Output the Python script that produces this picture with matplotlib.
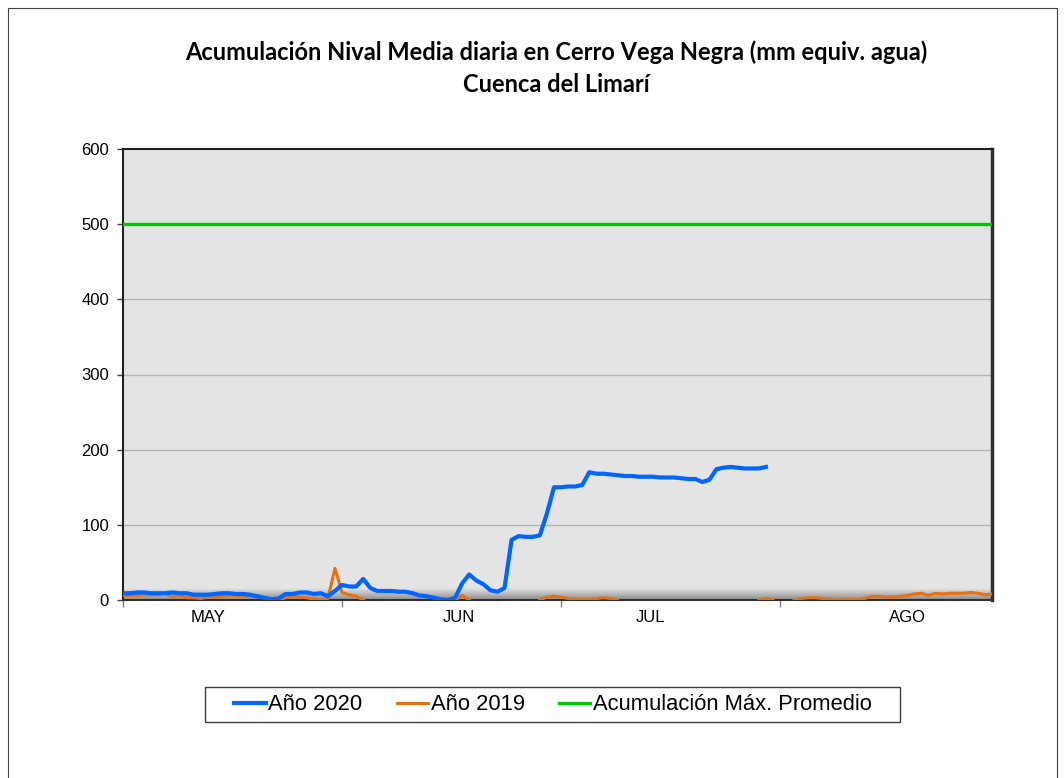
import matplotlib
matplotlib.use("Agg")
import matplotlib.pyplot as plt
import numpy as np
from matplotlib.colors import LinearSegmentedColormap
from matplotlib.patches import Rectangle

nan = np.nan

# daily values (mm equiv. agua), day 0 = 1 May
anio_2020 = [9, 9, 10, 10, 9, 9, 9, 10, 9, 9,
             7, 7, 7, 8, 9, 9, 8, 8, 7, 5,
             3, 1, 2, 8, 8, 10, 10, 8, 9, 5,
             12, 20, 18, 18, 28, 16, 12, 12, 12, 11,
             11, 9, 6, 5, 3, 1, 0, 3, 22, 34,
             26, 21, 13, 11, 16, 80, 85, 84, 84, 86,
             115, 150, 150, 151, 151, 153, 170, 168, 168, 167,
             166, 165, 165, 164, 164, 164, 163, 163, 163, 162,
             161, 161, 157, 160, 174, 176, 177, 176, 175, 175,
             175, 177]

anio_2019 = [6, 6, 6, 7, 7, 7, 9, 4, 6, 3,
             3, 2, 4, 4, 5, 6, 6, 5, 5, 4,
             3, 1, 0, 3, 5, 4, 3, 1, 0, 2,
             42, 10, 7, 5, 0, nan, nan, nan, nan, nan,
             nan, nan, nan, nan, nan, nan, nan, 0, 6, 0,
             nan, nan, nan, nan, nan, nan, nan, nan, nan, 0,
             4, 5, 4, 2, 1, 1, 1, 2, 3, 2,
             0, nan, nan, nan, nan, nan, nan, nan, nan, nan,
             nan, nan, nan, nan, nan, nan, nan, nan, nan, nan,
             0, 2, 0, nan, nan, 0, 2, 3, 3, 2,
             1, 0, 1, 1, 0, 2, 5, 5, 4, 4,
             5, 6, 8, 9, 6, 9, 8, 9, 9, 9,
             10, 9, 7, 8]

max_promedio = 500

month_bounds = [0, 31, 62, 93]
month_label_pos = [12, 47.6, 74.7, 111]
month_labels = ["MAY", "JUN", "JUL", "AGO"]

W, H = 1064, 778
fig = plt.figure(figsize=(W / 100, H / 100), dpi=100)
fig.patch.set_facecolor("white")
# outer chart border
fig.patches.append(Rectangle((8 / W, -0.01), 1049 / W, 1 - 8 / H + 0.01,
                             transform=fig.transFigure, fill=False,
                             edgecolor="#404040", linewidth=0.8))

ax = fig.add_axes([123 / W, 178 / H, 869 / W, 451 / H])
ax.set_facecolor("#E4E4E4")

# bottom shading like the Excel plot area
shade = LinearSegmentedColormap.from_list("shade", ["#E4E4E4", "#8C8C8C"])
ax.imshow(np.linspace(0, 1, 50).reshape(-1, 1), cmap=shade, aspect="auto",
          extent=(0, 1, 0, 0.025), transform=ax.transAxes, zorder=0.5)

for y in [100, 200, 300, 400]:
    ax.axhline(y, color="#B4B4B4", linewidth=1.0, zorder=1)

ax.axhline(max_promedio, color="#00C800", linewidth=2.4, zorder=3,
           label="Acumulación Máx. Promedio")
ax.plot(np.arange(len(anio_2019)), anio_2019, color="#E8700F", linewidth=2.2,
        zorder=3, label="Año 2019")
ax.plot(np.arange(len(anio_2020)), anio_2020, color="#0066FF", linewidth=3.0,
        zorder=4, label="Año 2020")

ax.set_xlim(0, 123)
ax.set_ylim(0, 600)
ax.set_yticks(range(0, 601, 100))
ax.tick_params(axis="y", labelsize=12, length=4, width=1, color="#404040", pad=6)

ax.set_xticks(month_bounds)
ax.set_xticklabels([""] * len(month_bounds))
ax.tick_params(axis="x", which="major", length=5, width=1, color="#808080")
ax.set_xticks(month_label_pos, minor=True)
ax.set_xticklabels(month_labels, minor=True)
ax.tick_params(axis="x", which="minor", length=0, labelsize=12, pad=7)

for s in ["top", "left"]:
    ax.spines[s].set_color("#202020")
    ax.spines[s].set_linewidth(1.5)
ax.spines["bottom"].set_color("#303030")
ax.spines["bottom"].set_linewidth(1.5)
ax.spines["right"].set_color("#303030")
ax.spines["right"].set_linewidth(2.5)

for lbl in ax.get_xticklabels(minor=True) + ax.get_yticklabels():
    lbl.set_family("Liberation Sans")

fig.text(556 / W, 1 - 52 / H,
         "Acumulación Nival Media diaria en Cerro Vega Negra (mm equiv. agua)",
         ha="center", va="center", fontsize=17, fontweight="bold", family="Lato")
fig.text(556 / W, 1 - 84 / H, "Cuenca del Limarí",
         ha="center", va="center", fontsize=17, fontweight="bold", family="Lato")

# legend box drawn by hand so the padding can be wider than tall
fig.patches.append(Rectangle((205 / W, 1 - 722 / H), 695 / W, 35 / H,
                             transform=fig.transFigure, facecolor="white",
                             edgecolor="#404040", linewidth=1.0))
handles, labels = ax.get_legend_handles_labels()
order = [2, 1, 0]
leg = fig.legend([handles[i] for i in order], [labels[i] for i in order],
                 loc="center", bbox_to_anchor=(553 / W, 1 - 705 / H),
                 ncol=3, frameon=False, handlelength=1.45,
                 handletextpad=0.1, columnspacing=1.55, borderpad=0.0,
                 borderaxespad=0.0,
                 prop={"family": "Liberation Sans", "size": 15.8})

fig.savefig("out.png", dpi=100)
